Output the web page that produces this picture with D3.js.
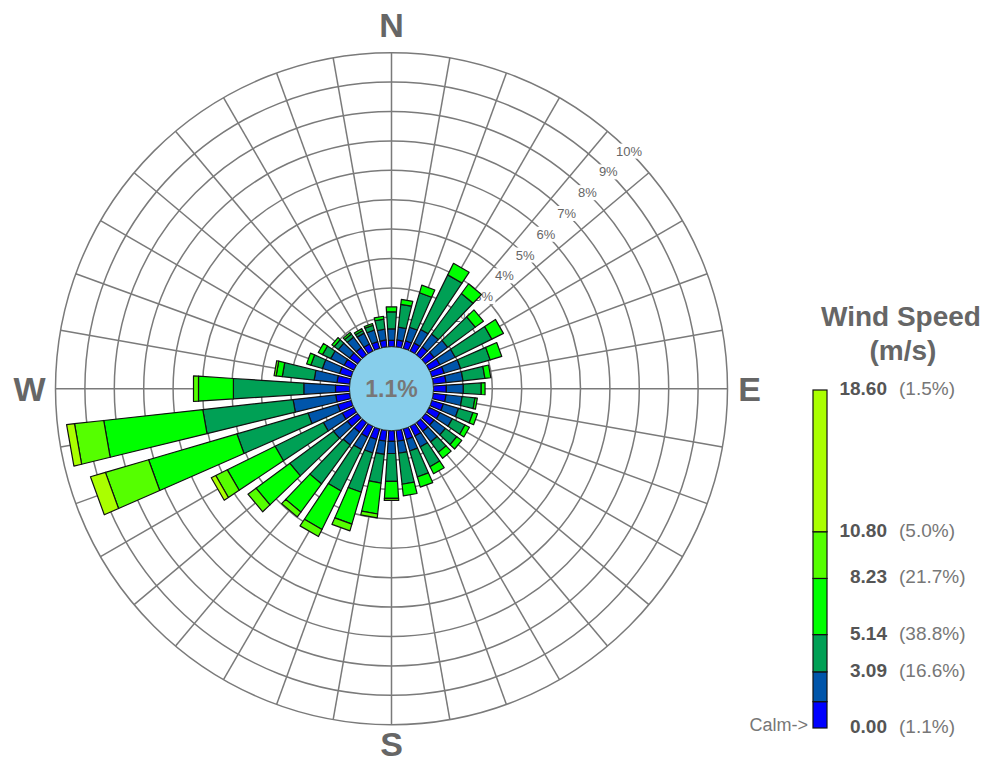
<!DOCTYPE html>
<html><head><meta charset="utf-8">
<script src="https://cdn.jsdelivr.net/npm/d3@7"></script>
<style>body{margin:0;background:#fff;} text{font-family:"Liberation Sans",Arial,sans-serif;}</style>
</head><body><svg id="c" width="990" height="765"></svg>
<script>
// ---- data ----
const directions = d3.range(0, 360, 10);
// frequency (%) per direction for each wind-speed class
const class1 = [0.22,0.24,0.27,0.31,0.34,0.37,0.41,0.44,0.44,0.44,0.44,0.41,0.41,0.37,0.37,0.37,0.37,0.37,0.37,0.37,0.37,0.41,0.41,0.44,0.44,0.48,0.48,0.48,0.44,0.41,0.37,0.34,0.31,0.27,0.24,0.24];
const class2 = [0.39,0.44,0.48,0.51,0.54,0.58,0.58,0.58,0.58,0.58,0.55,0.54,0.47,0.48,0.45,0.41,0.41,0.41,0.41,0.45,0.48,0.47,0.54,0.58,0.72,1.05,1.46,1.08,0.78,0.61,0.51,0.48,0.44,0.41,0.41,0.37];
const class3 = [0.58,0.78,1.22,2.07,1.71,1.16,1.39,1.05,0.75,0.61,0.44,0.51,0.48,0.48,0.44,0.75,0.92,1.06,0.95,0.98,1.39,1.57,1.64,1.84,1.83,2.52,3.09,2.40,1.09,0.41,0.31,0.17,0.13,0.10,0.17,0.34];
const class4 = [0.17,0.17,0.27,0.44,0.41,0.34,0.44,0.41,0.20,0.13,0.08,0.16,0.17,0.21,0.25,0.27,0.36,0.40,0.58,1.06,1.13,1.46,1.19,1.43,1.81,3.13,3.39,1.19,0.21,0.15,0.16,0.10,0.07,0.07,0.06,0.10];
const class5 = [0,0,0,0,0,0,0,0,0,0,0,0,0,0,0,0,0,0,0.07,0.13,0.24,0.27,0.20,0.34,0.44,1.53,1.00,0.17,0.07,0,0,0,0,0,0,0];
const class6 = [0,0,0,0,0,0,0,0,0,0,0,0,0,0,0,0,0,0,0,0,0,0,0,0,0.17,0.53,0.27,0,0,0,0,0,0,0,0,0];
const classColors = ["#0000FF","#0055AA","#00A055","#00FF00","#55FF00","#AAFF00"];
const calmPct = "1.1%";
const ringTicks = [1,2,3,4,5,6,7,8,9,10];
const ringLabels = ["1%","2%","3%","4%","5%","6%","7%","8%","9%","10%"];
const compassDirs = [0, 90, 180, 270];
const compassLabels = ["N","E","S","W"];
const legendBreaks = [0, 1.45, 3.09, 5.14, 8.23, 10.80, 18.60];
const legendValues = [0, 3.09, 5.14, 8.23, 10.80, 18.60];
const legendValueLabels = ["0.00","3.09","5.14","8.23","10.80","18.60"];
const legendPcts = ["(1.1%)","(16.6%)","(38.8%)","(21.7%)","(5.0%)","(1.5%)"];

// ---- drawing ----
const svg = d3.select("#c");
const cx = 391.5, cy = 388.7;
const rScale = d3.scaleLinear().domain([0, 10]).range([42, 336]);
const aScale = d3.scaleLinear().domain([0, 360]).range([0, 2 * Math.PI]);
const ptR = (deg, r) => { const a = aScale(deg); return [cx + r * Math.sin(a), cy - r * Math.cos(a)]; };
const pt = (deg, v) => ptR(deg, rScale(v));

// grid
const gridCol = "#7a7a7a";
const grid = svg.append("g");
grid.selectAll("line").data(directions).join("line")
  .attr("x1", d => pt(d, 0)[0]).attr("y1", d => pt(d, 0)[1])
  .attr("x2", d => pt(d, 10)[0]).attr("y2", d => pt(d, 10)[1])
  .attr("stroke", gridCol).attr("stroke-width", 1.5);
grid.selectAll("circle").data(ringTicks).join("circle")
  .attr("cx", cx).attr("cy", cy).attr("r", d => rScale(d))
  .attr("fill", "none").attr("stroke", gridCol).attr("stroke-width", 1.5);

// ring labels (white background)
const rl = svg.append("g");
ringTicks.forEach((t, i) => {
  const [x, y] = pt(45, t);
  const gg = rl.append("g");
  const bg = gg.append("rect").attr("fill", "#fff");
  const tx = gg.append("text").attr("x", x).attr("y", y).attr("text-anchor", "middle")
    .attr("dominant-baseline", "central").attr("font-size", 13).attr("fill", "#666").text(ringLabels[i]);
  const bb = tx.node().getBBox();
  bg.attr("x", bb.x - 2).attr("y", bb.y).attr("width", bb.width + 4).attr("height", bb.height);
});

// bars
const keys = ["c1","c2","c3","c4","c5","c6"];
const series = [class1, class2, class3, class4, class5, class6];
const rows = directions.map((d, i) => { const o = {dir: d}; keys.forEach((k, j) => o[k] = series[j][i]); return o; });
const stacked = d3.stack().keys(keys)(rows);
const hw = 3.7;
const line = d3.line();
stacked.forEach((layer, k) => {
  svg.append("g").selectAll("path").data(layer.filter(s => s[1] - s[0] > 0)).join("path")
    .attr("d", s => line([pt(s.data.dir - hw, s[0]), pt(s.data.dir - hw, s[1]), pt(s.data.dir + hw, s[1]), pt(s.data.dir + hw, s[0])]) + "Z")
    .attr("fill", classColors[k]).attr("stroke", "#111").attr("stroke-width", 1.2).attr("stroke-linejoin", "round");
});

// calm circle
svg.append("circle").attr("cx", cx).attr("cy", cy).attr("r", rScale(0))
  .attr("fill", "#87CEEB").attr("stroke", "#222").attr("stroke-width", 0.8);
svg.append("text").attr("x", cx).attr("y", cy).attr("text-anchor", "middle").attr("dominant-baseline", "central")
  .attr("font-size", 23).attr("font-weight", "bold").attr("fill", "#777").text(calmPct);

// compass labels (distance from centre in px)
const compassR = [364, 358, 355, 362];
svg.append("g").selectAll("text").data(compassDirs).join("text")
  .attr("x", (d, i) => ptR(d, compassR[i])[0]).attr("y", (d, i) => ptR(d, compassR[i])[1])
  .attr("text-anchor", "middle").attr("dominant-baseline", "central")
  .attr("font-size", 34).attr("font-weight", "bold").attr("fill", "#666")
  .text((d, i) => compassLabels[i]);

// legend
const ly = d3.scaleLinear().domain([0, 18.6]).range([728, 390]);
const leg = svg.append("g");
leg.selectAll("rect").data(d3.range(6)).join("rect")
  .attr("x", 813).attr("width", 14)
  .attr("y", i => ly(legendBreaks[i + 1])).attr("height", i => ly(legendBreaks[i]) - ly(legendBreaks[i + 1]))
  .attr("fill", i => classColors[i]).attr("stroke", "#111").attr("stroke-width", 1.2);
leg.selectAll("text.val").data(legendValues).join("text").attr("class", "val")
  .attr("x", 887).attr("y", d => ly(d) + 5).attr("text-anchor", "end")
  .attr("font-size", 19).attr("font-weight", "bold").attr("fill", "#555")
  .text((d, i) => legendValueLabels[i]);
leg.selectAll("text.pct").data(legendValues).join("text").attr("class", "pct")
  .attr("x", 899).attr("y", d => ly(d) + 5).attr("text-anchor", "start")
  .attr("font-size", 19).attr("fill", "#777")
  .text((d, i) => legendPcts[i]);
leg.append("text").attr("x", 808).attr("y", ly(0) + 3).attr("text-anchor", "end")
  .attr("font-size", 18).attr("fill", "#777").text("Calm->");
leg.append("text").attr("x", 901).attr("y", 326).attr("text-anchor", "middle")
  .attr("font-size", 28).attr("font-weight", "bold").attr("fill", "#666").text("Wind Speed");
leg.append("text").attr("x", 903).attr("y", 360).attr("text-anchor", "middle")
  .attr("font-size", 28).attr("font-weight", "bold").attr("fill", "#666").text("(m/s)");
</script></body></html>
